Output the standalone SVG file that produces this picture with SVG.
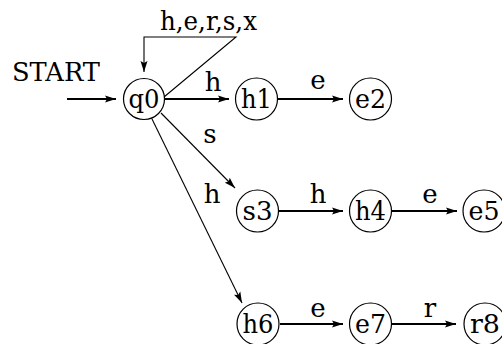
<svg xmlns="http://www.w3.org/2000/svg" width="502" height="344" viewBox="0 0 502 344">
<style>
text{font-family:'DejaVu Serif','Liberation Serif',serif;font-size:26px;fill:#000}
.n circle{fill:#fff;stroke:#000;stroke-width:1.2}
.n text{text-anchor:middle}
.c path,.c line{fill:none;stroke:#000}
.lbl{text-anchor:middle}
</style>
<defs>
<marker id="ah" markerUnits="userSpaceOnUse" markerWidth="12" markerHeight="8" refX="11" refY="4" orient="auto">
<path d="M0,0.5 L11,4 L0,7.5 L2,4 Z" fill="#000"/>
</marker>
</defs>
<g class="c">
<line x1="67" y1="99" x2="116" y2="99" stroke-width="1.8" marker-end="url(#ah)"/>
<path d="M164,97 L236,37 L144,37 L144,72" stroke-width="1.1" marker-end="url(#ah)"/>
<line x1="165" y1="99" x2="229" y2="99" stroke-width="1.8" marker-end="url(#ah)"/>
<line x1="278" y1="99" x2="343" y2="99" stroke-width="1.8" marker-end="url(#ah)"/>
<line x1="161" y1="113" x2="235" y2="188" stroke-width="1.1" marker-end="url(#ah)"/>
<line x1="152" y1="119" x2="242" y2="303" stroke-width="1.1" marker-end="url(#ah)"/>
<line x1="279" y1="211" x2="343" y2="211" stroke-width="2.2" marker-end="url(#ah)"/>
<line x1="392" y1="211" x2="457" y2="211" stroke-width="2.2" marker-end="url(#ah)"/>
<line x1="280" y1="324" x2="343" y2="324" stroke-width="1.8" marker-end="url(#ah)"/>
<line x1="392" y1="324" x2="456" y2="324" stroke-width="1.8" marker-end="url(#ah)"/>
</g>
<g id="labels">
<text x="12" y="81" textLength="88" lengthAdjust="spacingAndGlyphs">START</text>
<text x="160" y="30" textLength="97" lengthAdjust="spacingAndGlyphs">h,e,r,s,x</text>
<text class="lbl" x="213" y="91">h</text>
<text class="lbl" x="318" y="89">e</text>
<text class="lbl" x="210" y="143">s</text>
<text class="lbl" x="212" y="203">h</text>
<text class="lbl" x="318" y="203">h</text>
<text class="lbl" x="430" y="203">e</text>
<text class="lbl" x="318" y="317">e</text>
<text class="lbl" x="430" y="317">r</text>
</g>
<g id="q0" class="n"><circle cx="144" cy="99" r="20.5"/><text x="144" y="108" textLength="31" lengthAdjust="spacingAndGlyphs">q0</text></g>
<g id="h1" class="n"><circle cx="256.5" cy="99" r="21"/><text x="256.5" y="108" textLength="31" lengthAdjust="spacingAndGlyphs">h1</text></g>
<g id="e2" class="n"><circle cx="370.5" cy="99" r="21"/><text x="370.5" y="108" textLength="31" lengthAdjust="spacingAndGlyphs">e2</text></g>
<g id="s3" class="n"><circle cx="257.5" cy="211" r="21"/><text x="257.5" y="220" textLength="30" lengthAdjust="spacingAndGlyphs">s3</text></g>
<g id="h4" class="n"><circle cx="370.5" cy="211" r="21"/><text x="370.5" y="220" textLength="31" lengthAdjust="spacingAndGlyphs">h4</text></g>
<g id="e5" class="n"><circle cx="484" cy="211" r="21"/><text x="484" y="220" textLength="31" lengthAdjust="spacingAndGlyphs">e5</text></g>
<g id="h6" class="n"><circle cx="258" cy="324" r="21"/><text x="258" y="333" textLength="31" lengthAdjust="spacingAndGlyphs">h6</text></g>
<g id="e7" class="n"><circle cx="370.5" cy="324" r="21"/><text x="370.5" y="333" textLength="31" lengthAdjust="spacingAndGlyphs">e7</text></g>
<g id="r8" class="n"><circle cx="485" cy="324" r="21"/><text x="485" y="333" textLength="30" lengthAdjust="spacingAndGlyphs">r8</text></g>
</svg>
